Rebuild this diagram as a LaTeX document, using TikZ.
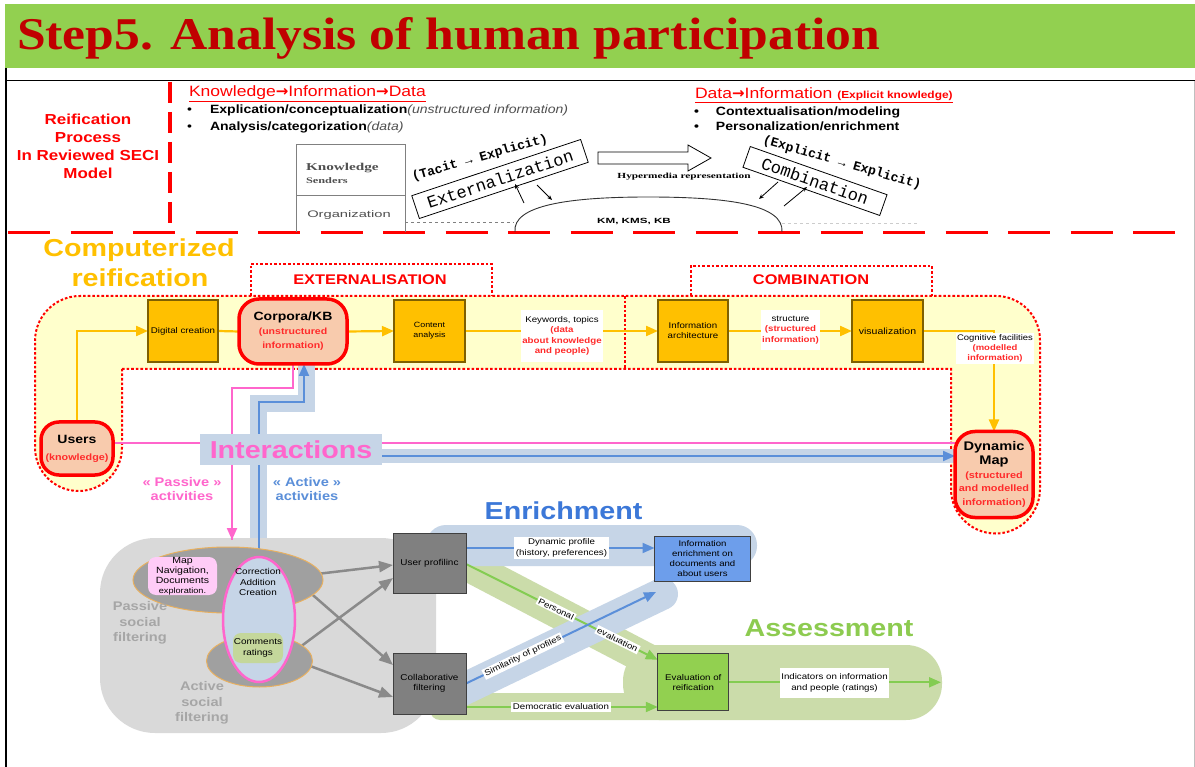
\documentclass[tikz,border=0pt]{standalone}
\usepackage{graphicx}
\usepackage{fontspec}
\setmainfont{Liberation Sans}[FakeStretch=1.17]
\newfontfamily\titlefont{Liberation Serif}
\newfontfamily\secserif{Liberation Serif}[FakeStretch=1.45]
\newfontfamily\secsans{Liberation Sans}[FakeStretch=1.55]
\newfontfamily\secmono{Liberation Mono}
\newfontfamily\arrfont{DejaVu Sans}
\usetikzlibrary{arrows.meta,shapes.geometric,calc}
\pgfdeclarelayer{back}
\pgfdeclarelayer{band}
\pgfdeclarelayer{wire}
\pgfsetlayers{back,band,wire,main}
\newcommand\fsz[2]{\fontsize{#1}{#2}\selectfont}
\newcommand\rarr{{\arrfont\bfseries →}}
\definecolor{titlegreen}{HTML}{92D050}
\definecolor{titlered}{HTML}{C00000}
\definecolor{orgbox}{HTML}{FFC000}
\definecolor{orgdraw}{HTML}{7F6000}
\definecolor{yelfill}{HTML}{FFFFCC}
\definecolor{peach}{HTML}{F8CBAD}
\definecolor{pinkc}{HTML}{FF66CC}
\definecolor{bandblue}{HTML}{C6D5E7}
\definecolor{lineblue}{HTML}{5B8FD9}
\definecolor{enrtxt}{HTML}{3C78D8}
\definecolor{ieblue}{HTML}{6D9EEB}
\definecolor{blobgrey}{HTML}{D9D9D9}
\definecolor{ellgrey}{HTML}{A0A0A0}
\definecolor{boxgrey}{HTML}{808080}
\definecolor{gbandc}{HTML}{CBDCAA}
\definecolor{gline}{HTML}{84CC52}
\definecolor{asstxt}{HTML}{8DCB50}
\definecolor{evgreen}{HTML}{92D050}
\definecolor{mapfill}{HTML}{FFCCF7}
\definecolor{commfill}{HTML}{C4D79B}
\definecolor{filttxt}{HTML}{A6A6A6}
\definecolor{labred}{HTML}{FF2A2A}
\definecolor{txtgray}{HTML}{505050}
\definecolor{secgray}{HTML}{505050}
\definecolor{arrgrey}{HTML}{8A8A8A}
\definecolor{ellline}{HTML}{E8B060}
\newcommand\rt[1]{{\color{labred}\bfseries #1}}
\begin{document}
\begin{tikzpicture}[x=1pt,y=-1pt,
  every node/.style={inner sep=0pt,outer sep=0pt},
  obox/.style={draw=orgdraw,line width=1.2pt,fill=orgbox,minimum width=70pt,minimum height=62pt,align=center,font=\fsz{8.3}{10}},
  rnode/.style={draw=red,line width=3.5pt,fill=peach,rounded corners=20pt,align=center},
  wlab/.style={fill=white,align=center,font=\fsz{8.3}{10.3},inner sep=1.5pt},
  yln/.style={draw=orgbox,line width=2.2pt},
  yarr/.style={yln,-{Triangle[length=12pt,width=10pt]}},
  rdot/.style={draw=red,line width=2pt,dash pattern=on 2.6pt off 2pt},
  pln/.style={draw=pinkc,line width=2pt},
  parr/.style={pln,-{Triangle[length=12pt,width=10pt]}},
  bln/.style={draw=lineblue,line width=2pt},
  barr/.style={bln,-{Triangle[length=12pt,width=10pt]}},
  bbandl/.style={draw=bandblue,line cap=butt},
  garr/.style={draw=gline,line width=2pt,-{Triangle[length=12pt,width=10pt]}},
  grarr/.style={draw=arrgrey,line width=2.5pt,-{Triangle[length=14pt,width=11pt]}},
  gbox/.style={draw=black!75,line width=1pt,fill=boxgrey,minimum width=73pt,minimum height=60pt,align=center,font=\fsz{8.5}{10.5}},
  secline/.style={draw=gray,line width=0.8pt},
  secarr/.style={draw=black,line width=0.8pt,-{Stealth[length=5pt,width=4pt]}},
  bigtxt/.style={font=\fsz{24.5}{28}\bfseries},
  filt/.style={text=filttxt,font=\fsz{12.5}{15.3}\bfseries,align=center}
]
\useasboundingbox (0,0) rectangle (1195,767);
\begin{pgfonlayer}{back}
\fill[white] (0,0) rectangle (1195,767);
\end{pgfonlayer}

% ---------- title ----------
\fill[titlegreen] (5,4) rectangle (1195,68);
\node[anchor=base west,text=titlered] (title) at (17,50) {\resizebox{863pt}{32pt}{\titlefont\bfseries Step5. Analysis of human participation}};
\draw[line width=1.2pt] (6,68) -- (6,767);
\draw[line width=1.6pt] (6,80.5) -- (1195,80.5);
\draw[gray!50,line width=0.8pt] (1194.4,81) -- (1194.4,767);

% ---------- upper section ----------
\draw[red,line width=3pt,dash pattern=on 42pt off 20.5pt] (8,232.5) -- (1195,232.5);
\draw[red,line width=3.5pt,dash pattern=on 21pt off 9pt] (170,82) -- (170,232);

\node[text=red,font=\fsz{14.5}{17.7}\bfseries,align=center] (reif) at (88,146.3) {Reification\\Process\\In Reviewed SECI\\Model};

\node[anchor=base west,text=red,font=\fsz{15}{18}] (kid) at (189,97) {\underline{Knowledge\rarr Information\rarr Data}};
\node[anchor=base west,font=\fsz{12}{14}] (b1) at (187,114) {\makebox[23pt][l]{\textbullet}\textbf{Explication/conceptualization}\textcolor{txtgray}{\itshape(unstructured information)}};
\node[anchor=base west,font=\fsz{12}{14}] (b2) at (187,131) {\makebox[23pt][l]{\textbullet}\textbf{Analysis/categorization}\textcolor{txtgray}{\itshape(data)}};

\node[anchor=base west,text=red,font=\fsz{15}{18}] (dik) at (695,99) {\underline{Data\rarr Information {\fsz{10.2}{12}\bfseries (Explicit knowledge)}}};
\node[anchor=base west,font=\fsz{12}{14}\bfseries] (b3) at (694,116) {\makebox[22pt][l]{\textbullet}Contextualisation/modeling};
\node[anchor=base west,font=\fsz{12}{14}\bfseries] (b4) at (694,131) {\makebox[22pt][l]{\textbullet}Personalization/enrichment};

% SECI picture
\draw[secline] (296,232) -- (296,144) -- (405,144) -- (405,232);
\draw[secline] (296,195) -- (405,195);
\node[anchor=base west,text=secgray,font=\secserif\bfseries\fsz{10.5}{12}] (kn) at (306,171) {Knowledge};
\node[anchor=base west,text=secgray,font=\secserif\bfseries\fsz{8.5}{10}] (sd) at (306,184) {Senders};
\node[text=secgray,font=\secsans\fsz{9.5}{11}] (org) at (349,215) {Organization};
\draw[gray,dashed,line width=0.8pt] (405,222) -- (514,222);
\draw[line width=0.9pt,black!80] (515,232) .. controls (512,205) and (570,197) .. (648,197) .. controls (730,197) and (784,205) .. (782,232);
\draw[gray!40,dashed,line width=1pt] (782,224) -- (918,224);
\node[font=\secsans\bfseries\fsz{7.5}{9}] (km) at (634,221) {KM, KMS, KB};
\node[font=\secserif\bfseries\fsz{7.8}{9}] (hyp) at (684,177) {Hypermedia representation};
\draw[fill=white,line width=0.8pt] (598,152) -- (688,152) -- (688,145) -- (711,158) -- (688,171) -- (688,164) -- (598,164) -- cycle;
\node[draw,line width=0.8pt,fill=white,rotate=18.4,minimum width=178pt,minimum height=24pt,font=\secmono\fsz{17}{19}] (ext) at (500,179) {Externalization};
\node[rotate=16,font=\secmono\bfseries\fsz{13}{15}] (tacit) at (480,158) {(Tacit → Explicit)};
\node[draw,line width=0.8pt,fill=white,rotate=-19.4,minimum width=145pt,minimum height=22pt,font=\secmono\fsz{17}{19}] (comb) at (815,181) {Combination};
\node[rotate=-16,font=\secmono\bfseries\fsz{13}{15}] (expl) at (842,163) {(Explicit → Explicit)};
\draw[secarr] (524,203) -- (515,184);
\draw[secarr] (537,185) -- (552,200);
\draw[secarr] (778,182) -- (759,199);
\draw[secarr] (784,206) -- (807,187);

% ---------- computerized reification ----------
\node[anchor=base,text=orgbox,bigtxt] (cr1) at (139,257) {Computerized};
\node[anchor=base,text=orgbox,bigtxt] (cr2) at (140,287) {reification};

\begin{pgfonlayer}{back}
\draw[rdot,fill=yelfill] (122,369) -- (951,369) -- (951,489) arc[start angle=180,end angle=0,radius=44.5]
  -- (1040,340) arc[start angle=0,end angle=-90,radius=44]
  -- (80,296) arc[start angle=-90,end angle=-180,radius=45]
  -- (35,447.5) arc[start angle=180,end angle=0,radius=43.5] -- cycle;
\draw[rdot] (251,296) -- (251,264) -- (492,264) -- (492,296);
\draw[rdot] (691,296) -- (691,266) -- (932,266) -- (932,296);
\draw[rdot] (625,296) -- (625,369);
\end{pgfonlayer}
\node[text=red,font=\fsz{14}{16}\bfseries] (exttitle) at (370,280) {EXTERNALISATION};
\node[text=red,font=\fsz{14}{16}\bfseries] (combtitle) at (811,280) {COMBINATION};

\node[obox,minimum width=70pt] (dc) at (183,331) {Digital creation};
\node[rnode,minimum width=108pt,minimum height=65pt,font=\fsz{9}{14}] (corp) at (293,331.5) {{\fsz{12}{14}\bfseries Corpora/KB}\\\rt{(unstructured}\\\rt{information)}};
\node[obox,minimum width=71pt,font=\fsz{7.6}{10}] (ca) at (429.5,331) {Content\\analysis};
\node[obox] (ia) at (693,331) {Information\\architecture};
\node[obox,minimum width=71pt,font=\fsz{9}{11}] (vis) at (887.5,331) {visualization};
\node[rnode,minimum width=72pt,minimum height=53pt,rounded corners=18pt,font=\fsz{9.2}{17}] (users) at (77,448.5) {{\fsz{12}{14}\bfseries Users}\\\rt{(knowledge)}};
\node[rnode,minimum width=78pt,minimum height=86pt,font=\fsz{9.3}{13.75}] (dm) at (994,474.5) {{\fsz{12.5}{14}\bfseries Dynamic}\\{\fsz{12.5}{14}\bfseries Map}\\\rt{(structured}\\\rt{and modelled}\\\rt{information)}};

\begin{pgfonlayer}{wire}
\draw[yarr] (users.north) |- (dc.west);
\draw[yln] (dc.east) -- (corp.west);
\draw[yarr] (corp.east) -- (ca.west);
\draw[yarr] (ca.east) -- (ia.west);
\draw[yarr] (ia.east) -- (vis.west);
\draw[yarr] (vis.east) -| (dm.north);
\end{pgfonlayer}
\node[wlab,minimum width=79pt,minimum height=52pt] (kw) at (562,336) {Keywords, topics\\\rt{(data}\\\rt{about knowledge}\\\rt{and people)}};
\node[wlab,minimum width=55pt,minimum height=40pt] (st) at (790.5,330) {structure\\\rt{(structured}\\\rt{information)}};
\node[wlab,minimum width=76pt,minimum height=31pt,font=\fsz{8.1}{10}] (cg) at (995,348.5) {Cognitive facilities\\\rt{(modelled}\\\rt{information)}};

% ---------- interactions ----------
\node[fill=bandblue,minimum width=182pt,minimum height=31pt,text=pinkc,bigtxt] (ibox) at (291,449.5) {Interactions};
\node[text=pinkc,font=\fsz{12.5}{14.5}\bfseries,align=center] (pass) at (182,489) {« Passive »\\activities};
\node[text=lineblue,font=\fsz{12.5}{14.5}\bfseries,align=center] (act) at (307,489) {« Active »\\activities};

% ---------- bottom section ----------
\begin{pgfonlayer}{back}
\fill[blobgrey,rounded corners=55pt] (100,538) rectangle (436,733);
\end{pgfonlayer}
\node[ellipse,fill=ellgrey,draw=ellline,line width=1pt,minimum width=190pt,minimum height=66pt] (pe) at (228,580) {};
\node[ellipse,fill=ellgrey,draw=ellline,line width=1pt,minimum width=106pt,minimum height=52pt] (le) at (259.5,661) {};
\node[ellipse,fill=bandblue,draw=pinkc,line width=2.5pt,minimum width=72pt,minimum height=125pt] (pel) at (259,619.5) {};
\node[fill=mapfill,rounded corners=8pt,minimum width=69pt,minimum height=38pt,align=center,font=\fsz{9}{10}] (map) at (182.5,576) {Map\\Navigation,\\Documents\\{\fsz{7.8}{9}exploration.}};
\node[align=center,font=\fsz{8.5}{10.5}] (cor) at (258,582) {Correction\\Addition\\Creation};
\node[fill=commfill,rounded corners=8pt,minimum width=50pt,minimum height=30pt,align=center,font=\fsz{8.5}{11}] (com) at (258,648) {Comments\\ratings};
\node[filt] (psf) at (140,623) {Passive\\social\\filtering};
\node[filt] (asf) at (202,703) {Active\\social\\filtering};

\node[gbox] (up) at (429.5,563) {User profilinc};
\node[gbox,minimum height=61pt] (cf) at (429.5,683.5) {Collaborative\\filtering};
\node[draw=black!75,line width=1pt,fill=ieblue,minimum width=96pt,minimum height=45pt,align=center,font=\fsz{8.2}{10}] (ie) at (702.5,558.5) {Information\\enrichment on\\documents and\\about users};
\node[draw=black!75,line width=1pt,fill=evgreen,minimum width=71pt,minimum height=57pt,align=center,font=\fsz{8.3}{10}] (ev) at (693.3,682.3) {Evaluation of\\reification};
\node[text=enrtxt,bigtxt] (enr) at (563.5,511) {Enrichment};
\node[text=asstxt,bigtxt] (ass) at (829,628.5) {Assessment};
\coordinate (gend) at (941,682.3);
\coordinate (simtip) at (656,592);

\begin{pgfonlayer}{band}
\draw[bbandl,line width=17pt] (306.5,362) -- (306.5,403.5) -- (258.5,403.5) -- (258.5,538);
\draw[bbandl,line width=14pt] ([yshift=-6.5pt]ibox.east) -- ([yshift=-6.5pt]ibox.east -| dm.west);
\fill[gbandc,rounded corners=10pt] (430,693) rectangle (700,720);
\fill[gbandc,rounded corners=36pt] (623,645) rectangle (942,720);
\draw[gbandc,line width=32pt] (450,556) -- (662,667);
\fill[bandblue,rounded corners=20pt] (426,525) rectangle (757,566);
\draw[bandblue,line width=32pt,line cap=round] (462,690) -- (662,594);
\end{pgfonlayer}

\begin{pgfonlayer}{wire}
\draw[pln] (corp.south) -- (293,388) -- (232,388) -- (232,540);
\draw[parr] (232,520) -- (232,540);
\draw[barr] (pel.north) -- (259,402) -- (304,402) -- ([xshift=11pt]corp.south);
\draw[pln] ([yshift=5.5pt]users.east) -- ([yshift=5.5pt]users.east -| dm.west);
\draw[barr] ([yshift=-6.5pt]ibox.east) -- ([yshift=-6.5pt]ibox.east -| dm.west);

\draw[grarr] (pe.4) -- ([yshift=-2pt]up.west);
\draw[grarr] (pe.-10) -- ([yshift=18.5pt]cf.west);
\draw[grarr] (le.20) -- ([yshift=-15pt]up.west);
\draw[grarr] (le.-6) -- ([yshift=-13.5pt]cf.west);

\draw[barr] ([yshift=15pt]up.east) -- ([yshift=15pt]up.east -| ie.west);
\draw[garr] ([yshift=-1pt]up.east) -- node[wlab,sloped,pos=0.47]{Personal} node[wlab,sloped,pos=0.79]{evaluation} ([yshift=-6pt]ev.north west);
\draw[barr] (cf.east) -- node[wlab,sloped,pos=0.3]{Similarity of profiles} (simtip);
\draw[garr] ([yshift=-23.5pt]cf.east) -- ([yshift=-23.5pt]cf.east -| ev.west);
\draw[garr] (ev.east) -- (gend);
\end{pgfonlayer}
\node[wlab] (dp) at (561.5,548) {Dynamic profile\\(history, preferences)};
\node[wlab] (de) at (561,707) {Democratic evaluation};
\node[wlab,minimum width=105pt,minimum height=30pt] (ind) at (834.5,683) {Indicators on information\\and people (ratings)};
\end{tikzpicture}
\end{document}
